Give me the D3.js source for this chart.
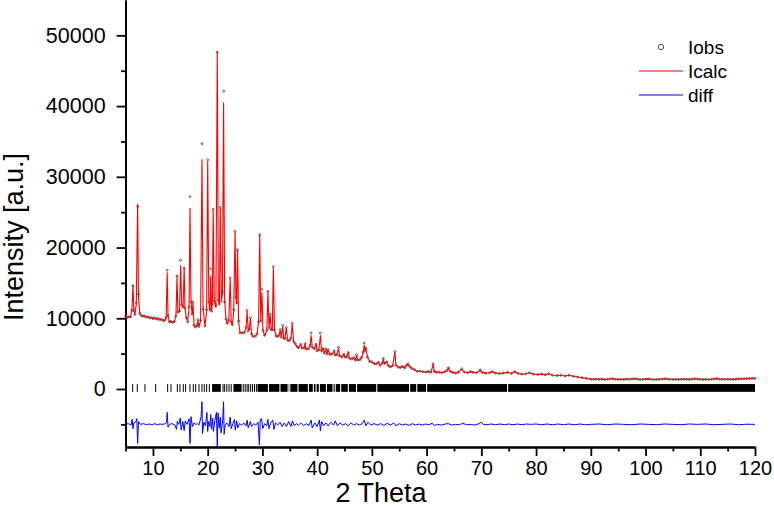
<!DOCTYPE html>
<html lang="en">
<head>
  <meta charset="UTF-8">
  <title>Rietveld plot</title>
  <script src="https://d3js.org/d3.v7.min.js"></script>
  <style>
    body { margin: 0; background: #fff; }
    text { font-family: Arial, "Liberation Sans", sans-serif; fill: #000; }
    .axis path, .axis line { stroke: #000; stroke-width: 1.8px; }
  </style>
</head>
<body>
  <svg></svg>
  <script>
    // [2theta, Icalc, Iobs]
    const profile = [
      [5.0,10250,10300],[5.3,10200,10150],[5.6,10150,10200],[5.9,10250,10200],[6.15,11200,11100],
      [6.35,14700,14600],[6.5,11000,11100],[6.7,10600,10550],[6.95,12000,12200],[7.2,26200,25800],
      [7.35,13000,13400],[7.6,10600,10700],[7.9,10400,10350],[8.2,10350,10300],[8.5,10250,10300],
      [8.8,10200,10150],[9.1,10150,10200],[9.4,10100,10050],[9.7,10050,10100],[10.0,10000,9950],
      [10.3,10000,10050],[10.6,9950,9900],[10.9,9900,9950],[11.2,9850,9800],[11.5,9800,9850],
      [11.8,9750,9700],[12.1,9650,9700],[12.4,10000,10100],[12.6,16500,16800],[12.75,10300,10400],
      [13.0,9550,9500],[13.3,9500,9550],[13.6,9450,9400],[13.9,9500,9550],[14.2,10400,10300],
      [14.4,16000,16000],[14.55,10800,10900],[14.85,11000,11000],[15.05,17500,18200],[15.25,12000,11900],
      [15.5,11500,11600],[15.7,17100,17100],[15.85,11500,11400],[16.1,10000,10100],[16.35,9600,9500],
      [16.6,11500,11600],[16.76,25600,27200],[16.95,12500,12300],[17.15,10500,10600],[17.3,12200,12300],
      [17.5,9000,9000],[17.75,8800,8750],[18.05,8900,8950],[18.2,9700,9800],[18.4,8900,8850],
      [18.7,9600,9700],[18.95,32500,34700],[19.15,11500,11300],[19.5,8900,8900],[19.8,11000,11200],
      [20.0,32200,32400],[20.2,12500,12300],[20.4,11000,11300],[20.55,16000,17000],[20.7,11000,11000],
      [20.85,12000,12100],[21.0,25300,25400],[21.2,12500,12400],[21.5,11500,11800],[21.75,47800,47600],
      [21.95,12500,12600],[22.15,12000,12000],[22.3,25600,25700],[22.5,12500,12400],[22.7,13500,13700],
      [22.9,40500,42100],[23.1,12500,12300],[23.35,9800,9900],[23.55,9300,9300],[23.85,9600,9700],
      [24.1,15600,15700],[24.3,9600,9500],[24.5,9000,9100],[24.75,11000,11200],[25.0,22200,22300],
      [25.15,13000,13000],[25.3,12000,12200],[25.45,19700,19700],[25.65,9500,9600],[25.9,8000,7950],
      [26.3,7900,7950],[26.7,8000,8000],[27.0,8600,8700],[27.2,11000,11100],[27.4,8300,8200],
      [27.6,8400,8500],[27.8,10000,10100],[28.0,7800,7800],[28.3,7400,7450],[28.7,7500,7450],
      [29.0,7700,7800],[29.3,9500,9500],[29.5,21800,21800],[29.7,9500,9600],[29.9,13600,14100],
      [30.1,8200,8300],[30.4,7600,7600],[30.8,8200,8300],[31.0,13800,13800],[31.2,8600,8600],
      [31.4,10500,10600],[31.6,8400,8400],[31.8,8300,8400],[32.0,17200,17300],[32.2,8400,8400],
      [32.5,7500,7500],[32.8,7400,7450],[33.0,7600,7600],[33.25,8300,8400],[33.45,7300,7300],
      [33.7,8900,9000],[33.9,7200,7200],[34.1,7100,7150],[34.35,8600,8700],[34.6,6900,6900],
      [34.9,6800,6850],[35.2,7100,7200],[35.45,9200,9300],[35.7,6700,6700],[36.0,6400,6400],
      [36.3,6000,6000],[36.6,5800,5850],[37.0,6300,6300],[37.2,5800,5800],[37.6,5750,5800],
      [37.8,6300,6400],[38.0,5650,5650],[38.4,5700,5700],[38.7,6100,6200],[38.9,7600,7900],
      [39.1,5900,5900],[39.5,5700,5700],[39.8,6300,6300],[40.0,5400,5400],[40.3,5500,5550],
      [40.6,7600,7900],[40.8,5400,5400],[41.1,5700,5700],[41.3,5100,5100],[41.6,5600,5650],
      [41.8,5000,5000],[42.0,5500,5550],[42.3,4900,4900],[42.7,4900,4950],[43.1,5300,5400],
      [43.3,4800,4800],[43.6,4850,4850],[43.9,5800,5900],[44.1,4700,4700],[44.5,4500,4550],
      [44.9,4900,4900],[45.1,4500,4500],[45.4,4550,4550],[45.7,5100,5150],[45.9,4350,4350],
      [46.3,4250,4250],[46.7,4400,4450],[47.0,4100,4100],[47.2,4800,4850],[47.4,4100,4100],
      [47.8,4100,4150],[48.1,4400,4450],[48.4,5100,5200],[48.6,6200,6500],[48.75,5400,5500],
      [48.9,5700,5800],[49.2,4500,4500],[49.6,3900,3900],[50.0,3800,3850],[50.4,3600,3600],
      [50.8,3500,3550],[51.2,3750,3750],[51.5,3350,3350],[51.9,3650,3700],[52.1,4200,4300],
      [52.3,3600,3600],[52.7,3800,3850],[53.0,3300,3300],[53.4,3100,3150],[53.8,3300,3300],
      [54.2,5200,5300],[54.4,3400,3400],[54.8,3100,3100],[55.2,3000,3050],[55.6,3200,3200],
      [56.0,3000,3000],[56.3,3300,3350],[56.6,3500,3550],[56.9,3200,3200],[57.3,2900,2900],
      [57.8,2700,2750],[58.3,2500,2500],[58.8,2500,2550],[59.3,2450,2450],[59.8,2400,2400],
      [60.3,2450,2500],[60.8,2400,2400],[61.2,3500,3550],[61.4,2500,2500],[61.8,2350,2350],
      [62.3,2400,2400],[62.8,2300,2300],[63.3,2400,2450],[63.7,2600,2600],[64.0,2950,3000],
      [64.3,2500,2500],[64.8,2350,2350],[65.3,2250,2250],[65.8,2350,2400],[66.4,2800,2850],
      [66.9,2400,2400],[67.5,2300,2300],[68.0,2450,2450],[68.5,2350,2350],[69.1,2300,2300],
      [69.8,2650,2700],[70.2,2350,2350],[70.8,2250,2250],[71.5,2300,2300],[72.0,2450,2450],
      [72.6,2250,2250],[73.3,2200,2200],[74.0,2250,2250],[74.8,2350,2350],[75.5,2200,2200],
      [76.1,2450,2450],[76.7,2200,2200],[77.4,2100,2100],[78.1,2150,2150],[78.8,2300,2300],
      [79.5,2100,2100],[80.3,2050,2050],[81.0,2100,2100],[81.7,2000,2000],[82.3,2150,2150],
      [83.0,1950,1950],[83.8,1900,1900],[84.5,1950,1950],[85.3,1850,1850],[86.0,1950,1950],
      [86.8,1800,1800],[87.6,1700,1700],[88.4,1600,1600],[89.2,1500,1500],[90.0,1400,1400],
      [90.5,1380,1380],[91.0,1400,1400],[91.5,1370,1370],[92.0,1400,1400],[92.5,1350,1350],
      [93.0,1380,1380],[93.5,1420,1420],[94.0,1450,1450],[94.5,1380,1380],[95.0,1360,1360],
      [95.5,1380,1380],[96.0,1350,1350],[96.5,1400,1400],[97.0,1380,1380],[97.5,1420,1420],
      [98.0,1460,1460],[98.5,1400,1400],[99.0,1350,1350],[99.5,1370,1370],[100.0,1400,1400],
      [100.5,1430,1430],[101.0,1380,1380],[101.5,1350,1350],[102.0,1360,1360],[102.5,1380,1380],
      [103.0,1400,1400],[103.5,1450,1450],[104.0,1420,1420],[104.5,1380,1380],[105.0,1350,1350],
      [105.5,1370,1370],[106.0,1350,1350],[106.5,1380,1380],[107.0,1400,1400],[107.5,1380,1380],
      [108.0,1360,1360],[108.5,1400,1400],[109.0,1450,1450],[109.5,1420,1420],[110.0,1380,1380],
      [110.5,1350,1350],[111.0,1370,1370],[111.5,1350,1350],[112.0,1380,1380],[112.5,1420,1420],
      [113.0,1460,1460],[113.5,1400,1400],[114.0,1380,1380],[114.5,1370,1370],[115.0,1400,1400],
      [115.5,1380,1380],[116.0,1360,1360],[116.5,1400,1400],[117.0,1430,1430],[117.5,1420,1420],
      [118.0,1450,1450],[118.5,1470,1470],[119.0,1480,1480],[119.5,1500,1500],[120.0,1500,1500]
    ];

    // [2theta, Iobs - Icalc shifted down]
    const diffRows = [
      [5.0,-4950],[5.5,-4900],[6.0,-5100],[6.2,-4300],[6.35,-5600],[6.5,-4800],[6.9,-4600],
      [7.05,-4200],[7.2,-7700],[7.35,-4600],[7.7,-5000],[8.3,-4900],[8.8,-5050],[9.3,-4950],
      [9.8,-5050],[10.3,-4900],[10.8,-5050],[11.3,-4950],[11.8,-5000],[12.3,-4900],[12.5,-4700],
      [12.6,-3300],[12.75,-5400],[13.0,-5000],[13.5,-4900],[14.0,-5100],[14.3,-5700],[14.45,-4600],
      [14.7,-5000],[15.0,-4100],[15.15,-5800],[15.45,-4600],[15.7,-5900],[15.9,-4500],[16.2,-5000],
      [16.6,-4200],[16.76,-7700],[16.95,-3900],[17.2,-5300],[17.5,-4800],[17.8,-5000],[18.1,-4900],
      [18.4,-5100],[18.8,-3900],[18.95,-1800],[19.05,-6300],[19.3,-4700],[19.6,-5200],[19.85,-3300],
      [20.0,-6000],[20.15,-4600],[20.4,-5300],[20.55,-3600],[20.7,-5700],[20.9,-4100],[21.05,-6000],
      [21.3,-4500],[21.6,-3300],[21.75,-8200],[21.9,-3400],[22.1,-5500],[22.3,-4000],[22.45,-6200],
      [22.75,-4300],[22.9,-1800],[23.0,-6400],[23.2,-5100],[23.5,-4800],[23.9,-5300],[24.1,-4000],
      [24.3,-5600],[24.6,-4900],[24.9,-4300],[25.05,-5800],[25.3,-4500],[25.5,-5500],[25.8,-4900],
      [26.2,-5100],[26.6,-4800],[27.0,-5200],[27.2,-4400],[27.4,-5500],[27.8,-4600],[28.0,-5300],
      [28.4,-4900],[28.8,-5100],[29.2,-4700],[29.45,-7900],[29.6,-4300],[29.85,-4200],[30.05,-5600],
      [30.4,-4900],[30.8,-5200],[31.0,-4300],[31.2,-5600],[31.5,-4800],[31.9,-4400],[32.1,-5700],
      [32.4,-4800],[32.8,-5100],[33.2,-4700],[33.6,-5300],[34.0,-4800],[34.4,-5300],[34.8,-4600],
      [35.2,-5300],[35.5,-4500],[35.8,-5200],[36.2,-4900],[36.6,-5100],[37.0,-4800],[37.5,-5200],
      [38.0,-4900],[38.5,-5150],[38.9,-4400],[39.1,-5500],[39.6,-4800],[40.0,-5300],[40.4,-4400],
      [40.6,-5900],[40.8,-4600],[41.2,-5200],[41.6,-4800],[42.0,-5200],[42.5,-4700],[43.0,-5100],
      [43.3,-4500],[43.7,-5200],[44.2,-4800],[44.7,-5100],[45.2,-4900],[45.7,-5200],[46.2,-4800],
      [46.7,-5100],[47.2,-4900],[47.7,-5100],[48.2,-4900],[48.6,-4400],[48.9,-5200],[49.3,-4700],
      [49.8,-5100],[50.4,-4900],[51.0,-5100],[51.6,-4900],[52.2,-5150],[52.8,-4850],[53.4,-5100],
      [54.0,-4800],[54.4,-5200],[55.0,-4900],[55.6,-5100],[56.2,-4950],[56.8,-5150],[57.4,-4900],
      [58.0,-5100],[58.6,-4950],[59.2,-5100],[59.8,-4950],[60.4,-5050],[61.0,-4850],[61.4,-5150],
      [62.0,-5000],[62.7,-5100],[63.4,-4950],[64.0,-4900],[64.6,-5100],[65.3,-5000],[66.0,-5050],
      [66.6,-4850],[67.3,-5050],[68.0,-5000],[68.7,-5100],[69.4,-4950],[70.0,-4700],[70.4,-5000],
      [71.0,-5050],[71.8,-4950],[72.6,-5050],[73.4,-4950],[74.2,-5050],[75.0,-4950],[75.8,-5050],
      [76.6,-4950],[77.4,-5050],[78.2,-4950],[79.0,-5000],[80.0,-4950],[81.0,-5050],[82.0,-4950],
      [83.0,-5050],[84.0,-4950],[85.0,-5050],[86.0,-4950],[87.0,-5050],[88.0,-4950],[89.0,-5050],
      [90.0,-5000],[91.5,-4950],[93.0,-5050],[94.5,-4950],[96.0,-5000],[97.5,-5050],[99.0,-4950],
      [100.5,-5000],[102.0,-5050],[103.5,-4950],[105.0,-5000],[106.5,-5050],[108.0,-4950],
      [109.5,-5000],[111.0,-4950],[112.5,-5050],[114.0,-5000],[115.5,-4950],[117.0,-5050],
      [118.5,-4980],[120.0,-5000]
    ];

    // reflection positions drawn as single ticks, and ranges where they merge
    const braggTicks = [6.29, 7.13, 8.54, 10.49, 12.68, 13.29, 14.45, 14.93, 15.54, 15.97, 16.76,
      17.37, 17.8, 18.41, 18.95, 19.38, 19.81, 20.3, 22.8, 23.1, 23.5, 23.9, 24.3,
      26.5, 26.85, 27.2, 27.5, 27.85, 28.2, 28.55, 28.9];
    const braggBands = [[20.8,22.4],[24.7,26.2],[29.1,31.0],[31.2,33.1],[33.3,34.6],[34.8,34.9],
      [35.1,36.4],[36.6,38.3],[38.5,39.2],[39.4,39.7],[39.9,40.3],[40.5,41.6],[41.8,42.8],
      [43.0,43.2],[43.4,44.2],[44.4,45.6],[45.8,47.1],[47.3,50.8],[51.0,56.8],[57.0,58.1],
      [58.3,59.9],[60.1,74.7],[74.9,120]];

    const xTickVals = [10, 20, 30, 40, 50, 60, 70, 80, 90, 100, 110, 120];
    const xMinorVals = [5, 15, 25, 35, 45, 55, 65, 75, 85, 95, 105, 115];
    const yTickVals = [0, 10000, 20000, 30000, 40000, 50000];
    const yMinorVals = [-5000, 5000, 15000, 25000, 35000, 45000];
    const legendLabels = ["Iobs", "Icalc", "diff"];

    const width = 774, height = 519;
    const svg = d3.select("svg").attr("width", width).attr("height", height);

    const x = d3.scaleLinear().domain([5, 120]).range([125.6, 755]);
    const y = d3.scaleLinear().domain([-8200, 55000]).range([447, 0]);

    // axes
    svg.append("g").attr("class", "axis")
      .attr("transform", "translate(0,447)")
      .call(d3.axisBottom(x).tickValues(xMinorVals).tickSize(4.5).tickSizeOuter(0).tickFormat(""));
    const xa = svg.append("g").attr("class", "axis")
      .attr("transform", "translate(0,447)")
      .call(d3.axisBottom(x).tickValues(xTickVals).tickSize(9).tickSizeOuter(0).tickPadding(5));
    xa.selectAll("text").style("font-size", "20px").attr("font-family", null);

    svg.append("g").attr("class", "axis")
      .attr("transform", "translate(125.6,0)")
      .call(d3.axisLeft(y).tickValues(yMinorVals).tickSize(4.5).tickSizeOuter(0).tickFormat(""));
    const ya = svg.append("g").attr("class", "axis")
      .attr("transform", "translate(125.6,0)")
      .call(d3.axisLeft(y).tickValues(yTickVals).tickSize(9).tickSizeOuter(0).tickPadding(11)
        .tickFormat(d3.format("d")));
    ya.selectAll("text").style("font-size", "21.5px").attr("font-family", null);

    // axis titles
    svg.append("text")
      .attr("x", 381).attr("y", 502)
      .attr("text-anchor", "middle")
      .style("font-size", "27px")
      .text("2 Theta");
    svg.append("text")
      .attr("transform", "translate(23,237) rotate(-90)")
      .attr("text-anchor", "middle")
      .style("font-size", "27px")
      .text("Intensity [a.u.]");

    // observed points
    svg.append("g")
      .selectAll("circle")
      .data(profile)
      .enter().append("circle")
      .attr("cx", d => x(d[0]))
      .attr("cy", d => y(d[2]))
      .attr("r", 1)
      .attr("fill", "none")
      .attr("stroke", "#555")
      .attr("stroke-width", 0.9);

    // calculated profile
    const calcLine = d3.line().x(d => x(d[0])).y(d => y(d[1]));
    svg.append("path")
      .datum(profile)
      .attr("d", calcLine)
      .attr("fill", "none")
      .attr("stroke", "#ff0000")
      .attr("stroke-width", 1.1);

    // reflection markers
    svg.append("g")
      .selectAll("line")
      .data(braggTicks)
      .enter().append("line")
      .attr("x1", d => x(d)).attr("x2", d => x(d))
      .attr("y1", y(700)).attr("y2", y(-400))
      .attr("stroke", "#000")
      .attr("stroke-width", 1);
    svg.append("g")
      .selectAll("rect")
      .data(braggBands)
      .enter().append("rect")
      .attr("x", d => x(d[0]))
      .attr("width", d => x(d[1]) - x(d[0]))
      .attr("y", y(700))
      .attr("height", y(-400) - y(700))
      .attr("fill", "#000");

    // difference curve
    const diffLine = d3.line().x(d => x(d[0])).y(d => y(d[1]));
    svg.append("path")
      .datum(diffRows)
      .attr("d", diffLine)
      .attr("fill", "none")
      .attr("stroke", "#0000ff")
      .attr("stroke-width", 1);

    // legend
    const lg = svg.append("g");
    lg.append("circle")
      .attr("cx", 661).attr("cy", 47).attr("r", 2.7)
      .attr("fill", "none").attr("stroke", "#555").attr("stroke-width", 1);
    lg.append("line")
      .attr("x1", 639).attr("x2", 683).attr("y1", 71).attr("y2", 71)
      .attr("stroke", "#ff0000").attr("stroke-width", 1.2);
    lg.append("line")
      .attr("x1", 639).attr("x2", 683).attr("y1", 95).attr("y2", 95)
      .attr("stroke", "#0000ff").attr("stroke-width", 1.2);
    lg.selectAll("text")
      .data(legendLabels)
      .enter().append("text")
      .attr("x", 688)
      .attr("y", (d, i) => 54 + i * 24)
      .style("font-size", "19px")
      .text(d => d);
  </script>
</body>
</html>
